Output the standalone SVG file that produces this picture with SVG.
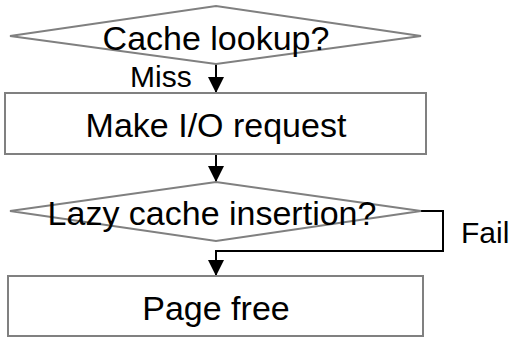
<svg xmlns="http://www.w3.org/2000/svg" width="510" height="338" viewBox="0 0 510 338">
  <style>
    .shape { fill: #ffffff; stroke: #808080; stroke-width: 2; }
    .conn { fill: none; stroke: #000000; stroke-width: 2; }
    .label { font-family: "Liberation Sans", Arial, sans-serif; fill: #000000; }
    .big { font-size: 34px; text-anchor: middle; }
    .small { font-size: 30px; }
  </style>
  <defs>
    <marker id="arrow" viewBox="0 0 16 16" refX="16" refY="8" markerWidth="16" markerHeight="16" markerUnits="userSpaceOnUse" orient="auto">
      <path d="M0,0 L16,8 L0,16 Z" fill="#000000"/>
    </marker>
  </defs>

  <g id="connectors">
    <line class="conn" x1="216" y1="64" x2="216" y2="93" marker-end="url(#arrow)"/>
    <line class="conn" x1="216" y1="154" x2="216" y2="182" marker-end="url(#arrow)"/>
    <polyline class="conn" points="421,211 443,211 443,251 216,251 216,276" marker-end="url(#arrow)"/>
  </g>

  <g id="cache-lookup">
    <polygon class="shape" points="10,36 216,6 421,36 216,64"/>
    <text class="label big" x="216" y="50">Cache lookup?</text>
  </g>

  <text id="miss-label" class="label small" x="130" y="87">Miss</text>

  <g id="make-io-request">
    <rect class="shape" x="5" y="93" width="421" height="61"/>
    <text class="label big" x="216" y="137">Make I/O request</text>
  </g>

  <g id="lazy-cache-insertion">
    <polygon class="shape" points="10,211 216,182 421,211 216,241"/>
    <text class="label big" x="212" y="225" font-size="33.5">Lazy cache insertion?</text>
  </g>

  <text id="fail-label" class="label small" x="461" y="243">Fail</text>

  <g id="page-free">
    <rect class="shape" x="8" y="276" width="415" height="60"/>
    <text class="label big" x="216" y="320">Page free</text>
  </g>
</svg>
